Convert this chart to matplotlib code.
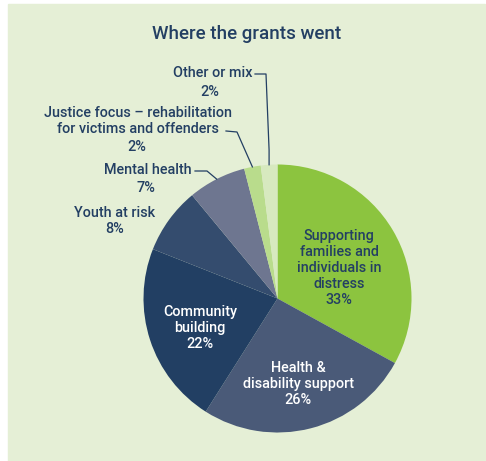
import numpy as np
import matplotlib.pyplot as plt
from matplotlib.patches import Rectangle

plt.rcParams['font.family'] = ['Roboto', 'DejaVu Sans']

categories = ['Supporting\nfamilies and\nindividuals in\ndistress', 'Health &\ndisability support',
              'Community\nbuilding', 'Youth at risk', 'Mental health',
              'Justice focus \u2013 rehabilitation\nfor victims and offenders', 'Other or mix']
shares = [33, 26, 22, 8, 7, 2, 2]
colors = ['#8cc43f', '#4a5a78', '#223f63', '#344c6e', '#6e7690', '#b9dc8c', '#d7e9bf']

bg = '#e5efd6'
navy = '#233f63'
cx, cy, r = 277.5, 298.5, 134

fig = plt.figure(figsize=(4.86, 4.61), dpi=100)
ax = fig.add_axes([0, 0, 1, 1])
ax.set_xlim(0, 486)
ax.set_ylim(461, 0)
ax.set_aspect('equal')
ax.axis('off')
ax.add_patch(Rectangle((8, 4), 477, 460, color=bg, zorder=0))

# y axis is inverted, so counterclock in data = clockwise on screen
wedges, _ = ax.pie(shares, colors=colors, startangle=-90, counterclock=True,
                   center=(cx, cy), radius=r, frame=True,
                   wedgeprops=dict(linewidth=0))
ax.set_xlim(0, 486)
ax.set_ylim(461, 0)
ax.axis('off')

ax.text(247, 34, 'Where the grants went', ha='center', va='center',
        fontsize=13.5, fontweight='medium', color=navy)

def edge_point(i, rr=r):
    a = np.deg2rad((wedges[i].theta1 + wedges[i].theta2) / 2)
    return cx + rr * np.cos(a), cy + rr * np.sin(a)

fs = 10.4
# inside labels
ax.text(339, 268, categories[0] + '\n%d%%' % shares[0], ha='center', va='center',
        fontsize=fs, fontweight='medium', color=navy, linespacing=1.2)
ax.text(298, 384, categories[1] + '\n%d%%' % shares[1], ha='center', va='center',
        fontsize=fs, fontweight='medium', color='white', linespacing=1.2)
ax.text(200, 328, categories[2] + '\n%d%%' % shares[2], ha='center', va='center',
        fontsize=fs, fontweight='medium', color='white', linespacing=1.2)

# outside labels
ax.text(115, 221, categories[3] + '\n%d%%' % shares[3], ha='center', va='center',
        fontsize=fs, fontweight='medium', color=navy, linespacing=1.2)
ax.text(192, 170, categories[4], ha='right', va='center',
        fontsize=fs, fontweight='medium', color=navy)
ax.text(146, 188, '%d%%' % shares[4], ha='center', va='center',
        fontsize=fs, fontweight='medium', color=navy)
ax.text(138, 121, categories[5], ha='center', va='center',
        fontsize=fs, fontweight='medium', color=navy, linespacing=1.2)
ax.text(137, 147, '%d%%' % shares[5], ha='center', va='center',
        fontsize=fs, fontweight='medium', color=navy)
ax.text(252, 73, categories[6], ha='right', va='center',
        fontsize=fs, fontweight='medium', color=navy)
ax.text(210, 92, '%d%%' % shares[6], ha='center', va='center',
        fontsize=fs, fontweight='medium', color=navy)

# leader lines
lw = 0.9
ex, ey = edge_point(6)
ax.plot([255, 266, ex, ex], [74, 74, 150, ey], color=navy, lw=lw)
ex, ey = edge_point(5)
ax.plot([226, 237, ex], [131, 132, ey], color=navy, lw=lw)
ex, ey = edge_point(4)
ax.plot([195, 207, ex], [171, 171, ey], color=navy, lw=lw)

fig.savefig('out.png', dpi=100, facecolor='white')
